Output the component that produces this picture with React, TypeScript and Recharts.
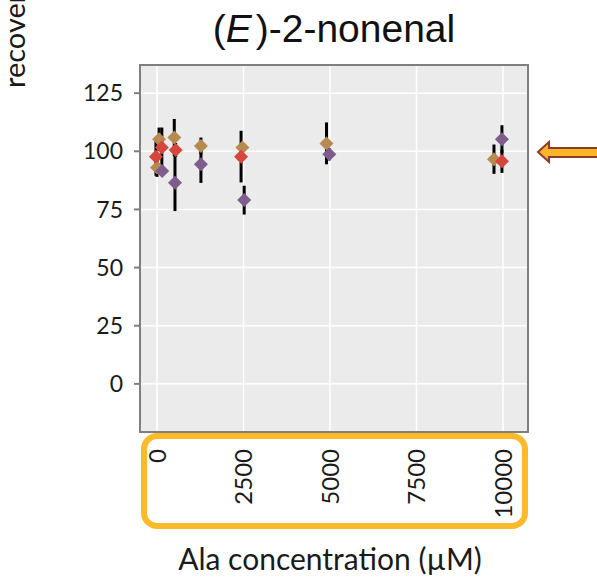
import { ScatterChart, Scatter, XAxis, YAxis, CartesianGrid, ErrorBar } from "recharts";

// axis ticks
const CONC_TICKS = [0, 2500, 5000, 7500, 10000];
const RECOVERY_TICKS = [0, 25, 50, 75, 100, 125];

// tan series
const TAN_CONC = [0, 60, 500, 1270, 2470, 4900, 9740];
const TAN_REC = [93.0, 105.2, 105.9, 102.3, 101.6, 103.4, 96.6];
const TAN_ERR = [4, 5, 8, 3.6, 2, 9, 6.3];

// red series
const RED_CONC = [-30, 140, 540, 2430, 9970];
const RED_REC = [97.7, 101.6, 100.6, 97.7, 95.7];
const RED_ERR = [8.2, 8.6, 3, 11.1, 5];

// purple series
const PURPLE_CONC = [150, 520, 1270, 2520, 4980, 9970];
const PURPLE_REC = [91.5, 86.5, 94.4, 79.0, 98.7, 105.2];
const PURPLE_ERR = [2, 12.2, 8, 6.2, 2.6, 6];

const toRows = (conc: number[], rec: number[], err: number[]) =>
  conc.map((c, i) => ({ conc: c, rec: rec[i], err: err[i] }));

const SERIES = [
  { name: "tan", color: "#B78A4F", data: toRows(TAN_CONC, TAN_REC, TAN_ERR) },
  { name: "red", color: "#D6463D", data: toRows(RED_CONC, RED_REC, RED_ERR) },
  { name: "purple", color: "#7E5C8B", data: toRows(PURPLE_CONC, PURPLE_REC, PURPLE_ERR) },
];

const FONT = "Lato, 'Open Sans', sans-serif";

function Diamond(color: string) {
  return (props: any) => {
    const { cx, cy } = props;
    const r = 7;
    return (
      <polygon
        points={`${cx},${cy - r} ${cx + r},${cy} ${cx},${cy + r} ${cx - r},${cy}`}
        fill={color}
      />
    );
  };
}

function XTick(props: any) {
  const { x, y, payload } = props;
  return (
    <text
      x={x}
      y={y}
      transform={`rotate(-90, ${x}, ${y})`}
      textAnchor="end"
      dy="0.36em"
      fontSize={24}
      fontFamily={FONT}
      fill="#1a1a1a"
    >
      {payload.value}
    </text>
  );
}

export default function App() {
  const W = 597;
  const H = 577;
  const plot = { left: 140, top: 65, right: 528, bottom: 432 };

  return (
    <div style={{ position: "absolute", left: 0, top: 0, width: W, height: H, background: "#fff" }}>
      <ScatterChart
        width={W}
        height={H}
        margin={{ top: plot.top, right: W - plot.right, bottom: 0, left: 0 }}
      >
        <CartesianGrid fill="#EBEBEB" stroke="#ffffff" strokeWidth={1.5} />
        <XAxis
          type="number"
          dataKey="conc"
          domain={[-491, 10723]}
          ticks={CONC_TICKS}
          height={H - plot.bottom}
          axisLine={false}
          tickLine={false}
          tickSize={6}
          tickMargin={11}
          tick={<XTick />}
          interval={0}
        />
        <YAxis
          type="number"
          dataKey="rec"
          domain={[-20.7, 137.1]}
          ticks={RECOVERY_TICKS}
          width={plot.left}
          axisLine={false}
          tickLine={{ stroke: "#7f7f7f", strokeWidth: 2 }}
          tickSize={6}
          tickMargin={11}
          tick={{ fontSize: 23, fontFamily: FONT, fill: "#1a1a1a" }}
          interval={0}
        />
        {SERIES.map((s) => (
          <Scatter
            key={s.name}
            name={s.name}
            data={s.data}
            shape={Diamond(s.color)}
            isAnimationActive={false}
          />
        ))}
        {SERIES.map((s) => (
          <Scatter
            key={s.name + "-err"}
            data={s.data}
            shape={() => <g />}
            isAnimationActive={false}
          >
            <ErrorBar dataKey="err" direction="y" width={0} stroke="#000" strokeWidth={3} isAnimationActive={false} />
          </Scatter>
        ))}
      </ScatterChart>

      <svg
        width={W}
        height={H}
        style={{ position: "absolute", left: 0, top: 0, pointerEvents: "none" }}
      >
        <rect
          x={plot.left}
          y={plot.top}
          width={plot.right - plot.left}
          height={plot.bottom - plot.top}
          fill="none"
          stroke="#7f7f7f"
          strokeWidth={2}
        />
        <text
          x={334}
          y={42}
          textAnchor="middle"
          fontSize={39}
          fontFamily="'Liberation Sans', Arial, sans-serif"
          fill="#111"
        >
          (<tspan fontStyle="italic">E</tspan>
          <tspan dx={4}>)-2-nonenal</tspan>
        </text>
        <text
          x={25}
          y={88}
          transform="rotate(-90, 25, 88)"
          fontSize={29}
          fontFamily={FONT}
          fill="#1a1a1a"
        >
          recovery (%)
        </text>
        <text
          x={330}
          y={570}
          textAnchor="middle"
          fontSize={30}
          fontFamily={FONT}
          fill="#1a1a1a"
        >
          Ala concentration (µM)
        </text>
        <rect
          x={144}
          y={436}
          width={381}
          height={90}
          rx={13}
          fill="none"
          stroke="#FBBA2A"
          strokeWidth={6}
        />
        <path
          d="M538,152 L549,142 L549,148 L600,148 L600,157 L549,157 L549,162 Z"
          fill="#FBB526"
          stroke="#8E3B27"
          strokeWidth={2}
          strokeLinejoin="miter"
        />
      </svg>
    </div>
  );
}
